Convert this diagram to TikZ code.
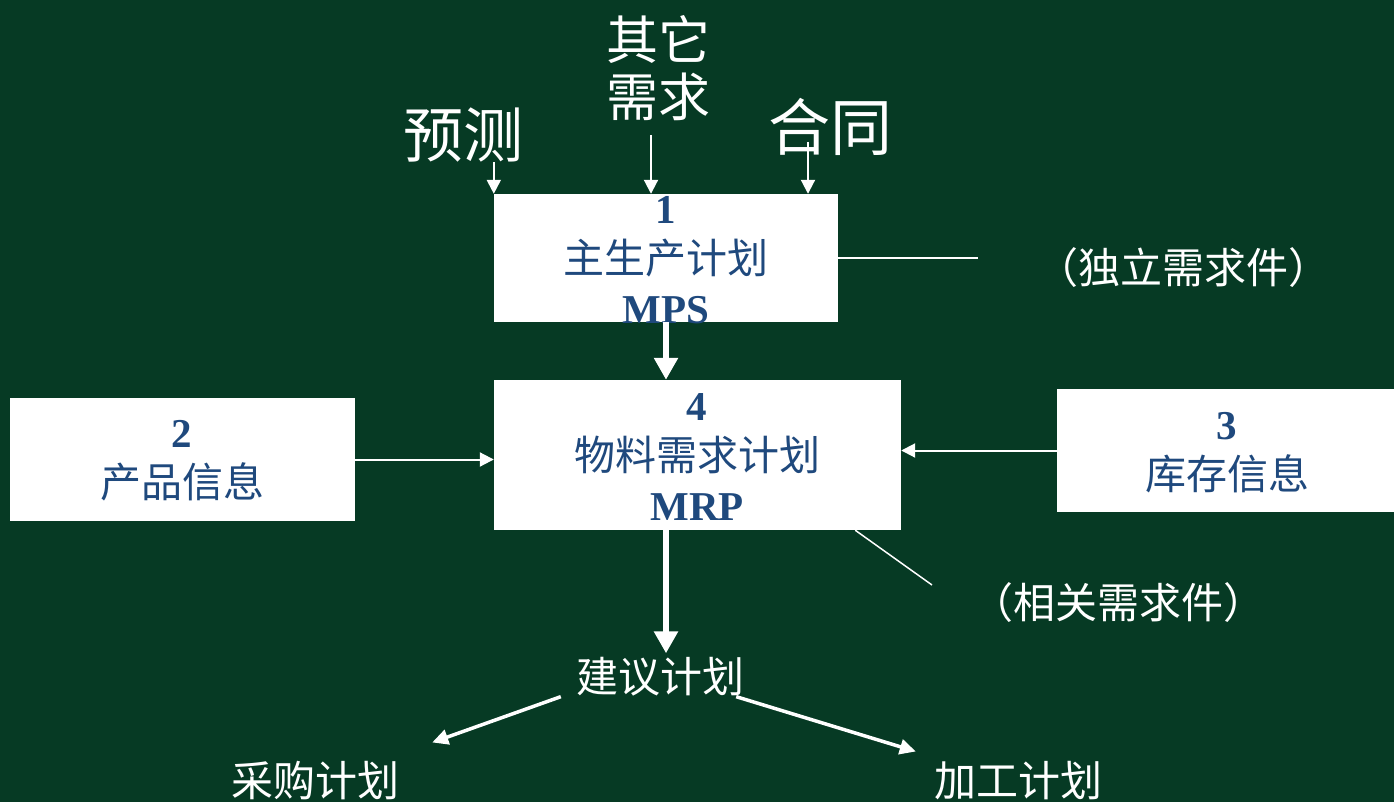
\documentclass[tikz,border=0pt]{standalone}
\usepackage{fontspec}
\setmainfont{Liberation Serif}
\newfontfamily\cjk{Noto Sans CJK SC}
\usetikzlibrary{arrows.meta}
\definecolor{bggreen}{RGB}{6,58,36}
\definecolor{boxblue}{RGB}{31,73,125}
\tikzset{
  planbox/.style={draw=none,fill=white,inner sep=0pt},
  boxtext/.style={text=boxblue,align=center,inner sep=0pt,font=\fontsize{41}{50}\selectfont},
  whitelabel/.style={text=white,inner sep=0pt,align=center},
  thinarr/.style={white,line width=2pt,-{Triangle[length=14pt,width=14pt]}},
  thickarr/.style={white,line width=6pt,-{Triangle[length=22pt,width=23pt]}},
  midarr/.style={white,line width=3.5pt,-{Triangle[length=16pt,width=15pt]}},
  thinline/.style={white,line width=1.5pt}
}
\begin{document}
\begin{tikzpicture}[x=1pt,y=1pt]
% Background
\fill[bggreen] (0,0) rectangle (1394,-802);
\useasboundingbox (0,0) rectangle (1394,-802);

% Boxes
\node[planbox,minimum width=344pt,minimum height=128pt] (mps) at (666,-258) {};
\node[planbox,minimum width=407pt,minimum height=150pt] (mrp) at (697.5,-455) {};
\node[planbox,minimum width=345pt,minimum height=123pt] (prod) at (182.5,-459.5) {};
\node[planbox,minimum width=337pt,minimum height=123pt] (stock) at (1225.5,-450.5) {};

% Box texts
\node[boxtext] (mpstext) at (666,-260) {\bfseries 1\\{\cjk 主生产计划}\\\bfseries MPS};
\node[boxtext] (mrptext) at (697,-457) {\bfseries 4\\{\cjk 物料需求计划}\\\bfseries MRP};
\node[boxtext] (prodtext) at (182,-461) {\bfseries 2\\{\cjk 产品信息}};
\node[boxtext] (stocktext) at (1227,-453) {\bfseries 3\\{\cjk 库存信息}};

% Demand sources
\node[whitelabel,font=\cjk\fontsize{60}{60}\selectfont] (forecast) at (463,-135) {预测};
\node[whitelabel,font=\cjk\fontsize{52}{57}\selectfont] (otherdemand) at (658,-68) {其它\\需求};
\node[whitelabel,font=\cjk\fontsize{62}{62}\selectfont] (contract) at (830,-127) {合同};

\draw[thinarr] (forecast.south -| mps.west) -- (mps.north west);
\draw[thinarr] ([xshift=-7pt,yshift=-14pt]otherdemand.south) -- ([xshift=-7pt]otherdemand.south |- mps.north);
\draw[thinarr] ([xshift=-22pt,yshift=14pt]contract.south) -- ([xshift=-22pt]contract.south |- mps.north);

% Independent demand
\node[whitelabel,font=\cjk\fontsize{42}{42}\selectfont] (indep) at (1183,-268) {（独立需求件）};
\coordinate (independ) at (978,-258);
\draw[thinline] (mps.east) -- (independ);

% MPS to MRP
\draw[thickarr] (mps.south) -- (mps.south |- mrp.north);

% Side inputs
\draw[thinarr] (prod.east) -- (prod.east -| mrp.west);
\draw[thinarr] (stock.west) -- (stock.west -| mrp.east);

% Dependent demand
\node[whitelabel,font=\cjk\fontsize{42}{42}\selectfont] (dep) at (1118,-603) {（相关需求件）};
\coordinate (depend) at (932,-585);
\draw[thinline] ([xshift=-46pt]mrp.south east) -- (depend);

% Suggested plans
\node[whitelabel,font=\cjk\fontsize{42}{42}\selectfont] (suggest) at (660,-677) {建议计划};
\node[whitelabel,font=\cjk\fontsize{42}{42}\selectfont] (purchase) at (315,-781) {采购计划};
\node[whitelabel,font=\cjk\fontsize{42}{42}\selectfont] (process) at (1018,-781) {加工计划};

\draw[thickarr] (mps.south |- mrp.south) -- ([yshift=4pt]mps.south |- suggest.north);
\draw[midarr] ([xshift=-15pt]suggest.south west) -- ([xshift=33pt,yshift=19pt]purchase.north east);
\draw[midarr] ([xshift=-8pt]suggest.south east) -- ([xshift=-18pt,yshift=10pt]process.north west);
\end{tikzpicture}
\end{document}
